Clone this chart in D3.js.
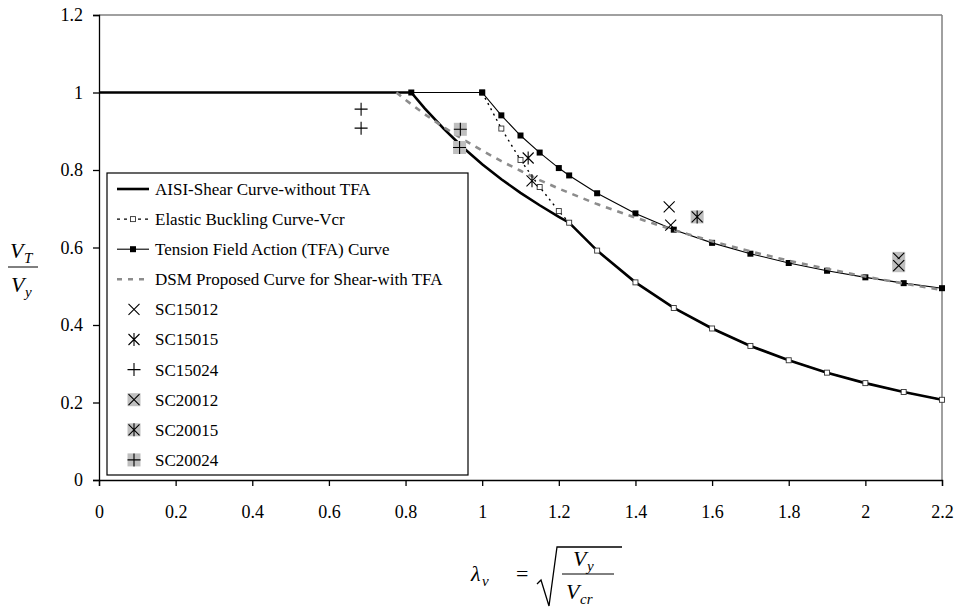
<html lang="en">
<head>
  <title>Shear Strength Curves</title>
  <meta charset="utf-8">
  <script src="https://cdnjs.cloudflare.com/ajax/libs/d3/7.8.5/d3.min.js"></script>
  <style>
    body { margin: 0; background: white; }
    text { font-family: 'Liberation Serif', 'Times New Roman', serif; fill: black; }
    .tick_label { font-size: 18px; }
    .legend_text { font-size: 17px; }
    .math { font-size: 22px; font-style: italic; }
    .math_sub { font-size: 15px; font-style: italic; }
  </style>
</head>

<body>
  <svg id = 'canvas' style = 'width: 962px; height: 612px;'></svg>
</body>

<script>

// curves, x = slenderness lambda_v, y = V_T / V_y
var lambda_aisi = [0, 0.815, 0.85, 0.9, 0.95, 1.0, 1.05, 1.1, 1.15, 1.2, 1.227, 1.3, 1.4, 1.5, 1.6, 1.7, 1.8, 1.9, 2.0, 2.1, 2.2];
var v_aisi = [1, 1, 0.959, 0.906, 0.858, 0.815, 0.776, 0.741, 0.709, 0.679, 0.664, 0.592, 0.510, 0.444, 0.391, 0.346, 0.309, 0.277, 0.250, 0.227, 0.207];

var lambda_elastic = [1.0, 1.05, 1.1, 1.15, 1.2, 1.227, 1.3, 1.4, 1.5, 1.6, 1.7, 1.8, 1.9, 2.0, 2.1, 2.2];
var v_elastic = [1, 0.907, 0.826, 0.756, 0.694, 0.664, 0.592, 0.510, 0.444, 0.391, 0.346, 0.309, 0.277, 0.250, 0.227, 0.207];

var lambda_tfa = [0.815, 1.0, 1.05, 1.1, 1.15, 1.2, 1.227, 1.3, 1.4, 1.5, 1.6, 1.7, 1.8, 1.9, 2.0, 2.1, 2.2];
var v_tfa = [1, 1, 0.941, 0.889, 0.845, 0.805, 0.786, 0.740, 0.688, 0.646, 0.612, 0.584, 0.560, 0.540, 0.523, 0.508, 0.495];

var lambda_dsm = [0.776, 0.8, 0.85, 0.9, 0.95, 1.0, 1.05, 1.1, 1.15, 1.2, 1.227, 1.3, 1.4, 1.5, 1.6, 1.7, 1.8, 1.9, 2.0, 2.1, 2.2];
var v_dsm = [1, 0.981, 0.944, 0.910, 0.879, 0.850, 0.823, 0.798, 0.774, 0.752, 0.741, 0.712, 0.677, 0.645, 0.616, 0.590, 0.566, 0.545, 0.525, 0.507, 0.490];

// test results
var sc15012 = [[1.488, 0.705], [1.492, 0.658]];
var sc15015 = [[1.12, 0.831], [1.13, 0.772]];
var sc15024 = [[0.684, 0.957], [0.684, 0.908]];
var sc20012 = [[2.087, 0.572], [2.087, 0.553]];
var sc20015 = [[1.561, 0.679]];
var sc20024 = [[0.943, 0.905], [0.941, 0.858]];

var x_ticks = [0, 0.2, 0.4, 0.6, 0.8, 1, 1.2, 1.4, 1.6, 1.8, 2, 2.2];
var y_ticks = [0, 0.2, 0.4, 0.6, 0.8, 1, 1.2];

var legend_names = ['AISI-Shear Curve-without TFA', 'Elastic Buckling Curve-Vcr', 'Tension Field Action (TFA) Curve',
                    'DSM Proposed Curve for Shear-with TFA', 'SC15012', 'SC15015', 'SC15024', 'SC20012', 'SC20015', 'SC20024'];

/*******************************************************************************/
// Scales and frame

var plot_left = 99, plot_top = 15, plot_right = 942, plot_bottom = 480;
var svg = d3.select('#canvas');

var xScale = d3.scaleLinear().domain([0, 2.2]).range([plot_left, plot_right]);
var yScale = d3.scaleLinear().domain([0, 1.2]).range([plot_bottom, plot_top]);

function zip(xs, ys){ return xs.map(function(x, i){ return [x, ys[i]]; }); }

svg.append('line').attr('x1', plot_left).attr('y1', plot_top).attr('x2', plot_right).attr('y2', plot_top)
  .style('stroke', '#808080').style('stroke-width', 1.5);
svg.append('line').attr('x1', plot_right).attr('y1', plot_top).attr('x2', plot_right).attr('y2', plot_bottom)
  .style('stroke', '#808080').style('stroke-width', 1.5);

var xAxis = svg.append('g').attr('transform', 'translate(0,' + plot_bottom + ')')
  .call(d3.axisBottom(xScale).tickValues(x_ticks).tickSize(6).tickPadding(16).tickFormat(function(d){ return '' + d; }));
var yAxis = svg.append('g').attr('transform', 'translate(' + plot_left + ',0)')
  .call(d3.axisLeft(yScale).tickValues(y_ticks).tickSize(6).tickPadding(10).tickFormat(function(d){ return '' + d; }));

[xAxis, yAxis].forEach(function(a){
  a.select('.domain').style('stroke', 'black').style('stroke-width', 1.3);
  a.selectAll('.tick line').style('stroke', 'black').style('stroke-width', 1.3);
  a.selectAll('.tick text').attr('class', 'tick_label');
  a.attr('font-family', null).attr('font-size', null);
});
xAxis.selectAll('.tick text').attr('dy', '0.9em');

/*******************************************************************************/
// Curves

var line = d3.line().x(function(d){ return xScale(d[0]); }).y(function(d){ return yScale(d[1]); });

var styles = {
  aisi:    { stroke: 'black', width: 2.6, dash: null },
  elastic: { stroke: 'black', width: 1.4, dash: '2,4' },
  tfa:     { stroke: 'black', width: 1.1, dash: null },
  dsm:     { stroke: '#8c8c8c', width: 2.6, dash: '6,6' }
};

function drawCurve(pts, st){
  svg.append('path').datum(pts).attr('d', line)
    .style('fill', 'none').style('stroke', st.stroke).style('stroke-width', st.width)
    .style('stroke-dasharray', st.dash);
}

drawCurve(zip(lambda_aisi, v_aisi), styles.aisi);
drawCurve(zip(lambda_elastic, v_elastic), styles.elastic);
svg.selectAll('.el_mark').data(zip(lambda_elastic, v_elastic)).enter().append('rect')
  .attr('x', function(d){ return xScale(d[0]) - 2.5; }).attr('y', function(d){ return yScale(d[1]) - 2.5; })
  .attr('width', 5).attr('height', 5).style('fill', 'white').style('stroke', '#333').style('stroke-width', 0.9);
drawCurve(zip(lambda_tfa, v_tfa), styles.tfa);
svg.selectAll('.tfa_mark').data(zip(lambda_tfa, v_tfa)).enter().append('rect')
  .attr('x', function(d){ return xScale(d[0]) - 3; }).attr('y', function(d){ return yScale(d[1]) - 3; })
  .attr('width', 6).attr('height', 6).style('fill', 'black');
drawCurve(zip(lambda_dsm, v_dsm), styles.dsm);

/*******************************************************************************/
// Test markers

function markerPath(type, s){
  var p = '';
  if(type == 'x' || type == 'star'){ p += 'M' + (-s) + ',' + (-s) + 'L' + s + ',' + s + 'M' + (-s) + ',' + s + 'L' + s + ',' + (-s); }
  if(type == 'star'){ p += 'M0,' + (-s - 1) + 'L0,' + (s + 1); }
  if(type == 'plus'){ p += 'M' + (-s - 1) + ',0L' + (s + 1) + ',0M0,' + (-s - 1) + 'L0,' + (s + 1); }
  return p;
}

function drawMarker(g, type, grey){
  if(grey){ g.append('rect').attr('x', -6.5).attr('y', -6.5).attr('width', 13).attr('height', 13).style('fill', '#bfbfbf'); }
  g.append('path').attr('d', markerPath(type, 5.5)).style('stroke', 'black').style('stroke-width', 1.1).style('fill', 'none');
}

var tests = [
  { pts: sc15012, type: 'x', grey: false },
  { pts: sc15015, type: 'star', grey: false },
  { pts: sc15024, type: 'plus', grey: false },
  { pts: sc20012, type: 'x', grey: true },
  { pts: sc20015, type: 'star', grey: true },
  { pts: sc20024, type: 'plus', grey: true }
];

tests.forEach(function(t){
  t.pts.forEach(function(d){
    var g = svg.append('g').attr('transform', 'translate(' + xScale(d[0]) + ',' + yScale(d[1]) + ')');
    drawMarker(g, t.type, t.grey);
  });
});

/*******************************************************************************/
// Legend

var legend = svg.append('g');
legend.append('rect').attr('x', 107).attr('y', 173).attr('width', 361).attr('height', 302)
  .style('fill', 'white').style('stroke', 'black').style('stroke-width', 1.2);

legend_names.forEach(function(name, i){
  var y = 189 + i*30.1;
  var g = legend.append('g').attr('transform', 'translate(0,' + y + ')');
  if(i == 0){ g.append('line').attr('x1', 117).attr('x2', 149).style('stroke', 'black').style('stroke-width', 2.6); }
  if(i == 1){
    g.append('line').attr('x1', 117).attr('x2', 149).style('stroke', 'black').style('stroke-width', 1.4).style('stroke-dasharray', '3,4');
    g.append('rect').attr('x', 130.5).attr('y', -2.5).attr('width', 5).attr('height', 5).style('fill', 'white').style('stroke', '#333').style('stroke-width', 0.9);
  }
  if(i == 2){
    g.append('line').attr('x1', 117).attr('x2', 149).style('stroke', 'black').style('stroke-width', 1.1);
    g.append('rect').attr('x', 130).attr('y', -3).attr('width', 6).attr('height', 6).style('fill', 'black');
  }
  if(i == 3){ g.append('line').attr('x1', 117).attr('x2', 149).style('stroke', '#8c8c8c').style('stroke-width', 2.6).style('stroke-dasharray', '5,6'); }
  if(i >= 4){
    var t = tests[i - 4];
    drawMarker(g.append('g').attr('transform', 'translate(134,0)'), t.type, t.grey);
  }
  g.append('text').attr('class', 'legend_text').attr('x', 155).attr('y', 0).attr('dy', '0.35em').text(name);
});

/*******************************************************************************/
// Axis titles

var ylab = svg.append('g');
ylab.append('text').attr('class', 'math').attr('x', 10).attr('y', 258).text('V');
ylab.append('text').attr('class', 'math_sub').attr('x', 24).attr('y', 263).text('T');
ylab.append('line').attr('x1', 8).attr('x2', 38).attr('y1', 267).attr('y2', 267).style('stroke', 'black').style('stroke-width', 1);
ylab.append('text').attr('class', 'math').attr('x', 11).attr('y', 292).text('V');
ylab.append('text').attr('class', 'math_sub').attr('x', 25).attr('y', 297).text('y');

var xlab = svg.append('g');
xlab.append('text').attr('class', 'math').attr('x', 471).attr('y', 581).text('λ');
xlab.append('text').attr('class', 'math_sub').attr('x', 482).attr('y', 586).text('v');
xlab.append('text').attr('x', 516).attr('y', 581).style('font-size', '22px').text('=');
xlab.append('path').attr('d', 'M537,584 L541,580 L549,606 L557,547 L622,547')
  .style('fill', 'none').style('stroke', 'black').style('stroke-width', 1.3);
xlab.append('text').attr('class', 'math').attr('x', 573).attr('y', 566).text('V');
xlab.append('text').attr('class', 'math_sub').attr('x', 587).attr('y', 571).text('y');
xlab.append('line').attr('x1', 562).attr('x2', 614).attr('y1', 574).attr('y2', 574).style('stroke', 'black').style('stroke-width', 1);
xlab.append('text').attr('class', 'math').attr('x', 566).attr('y', 599).text('V');
xlab.append('text').attr('class', 'math_sub').attr('x', 580).attr('y', 604).text('cr');

</script>
</html>
